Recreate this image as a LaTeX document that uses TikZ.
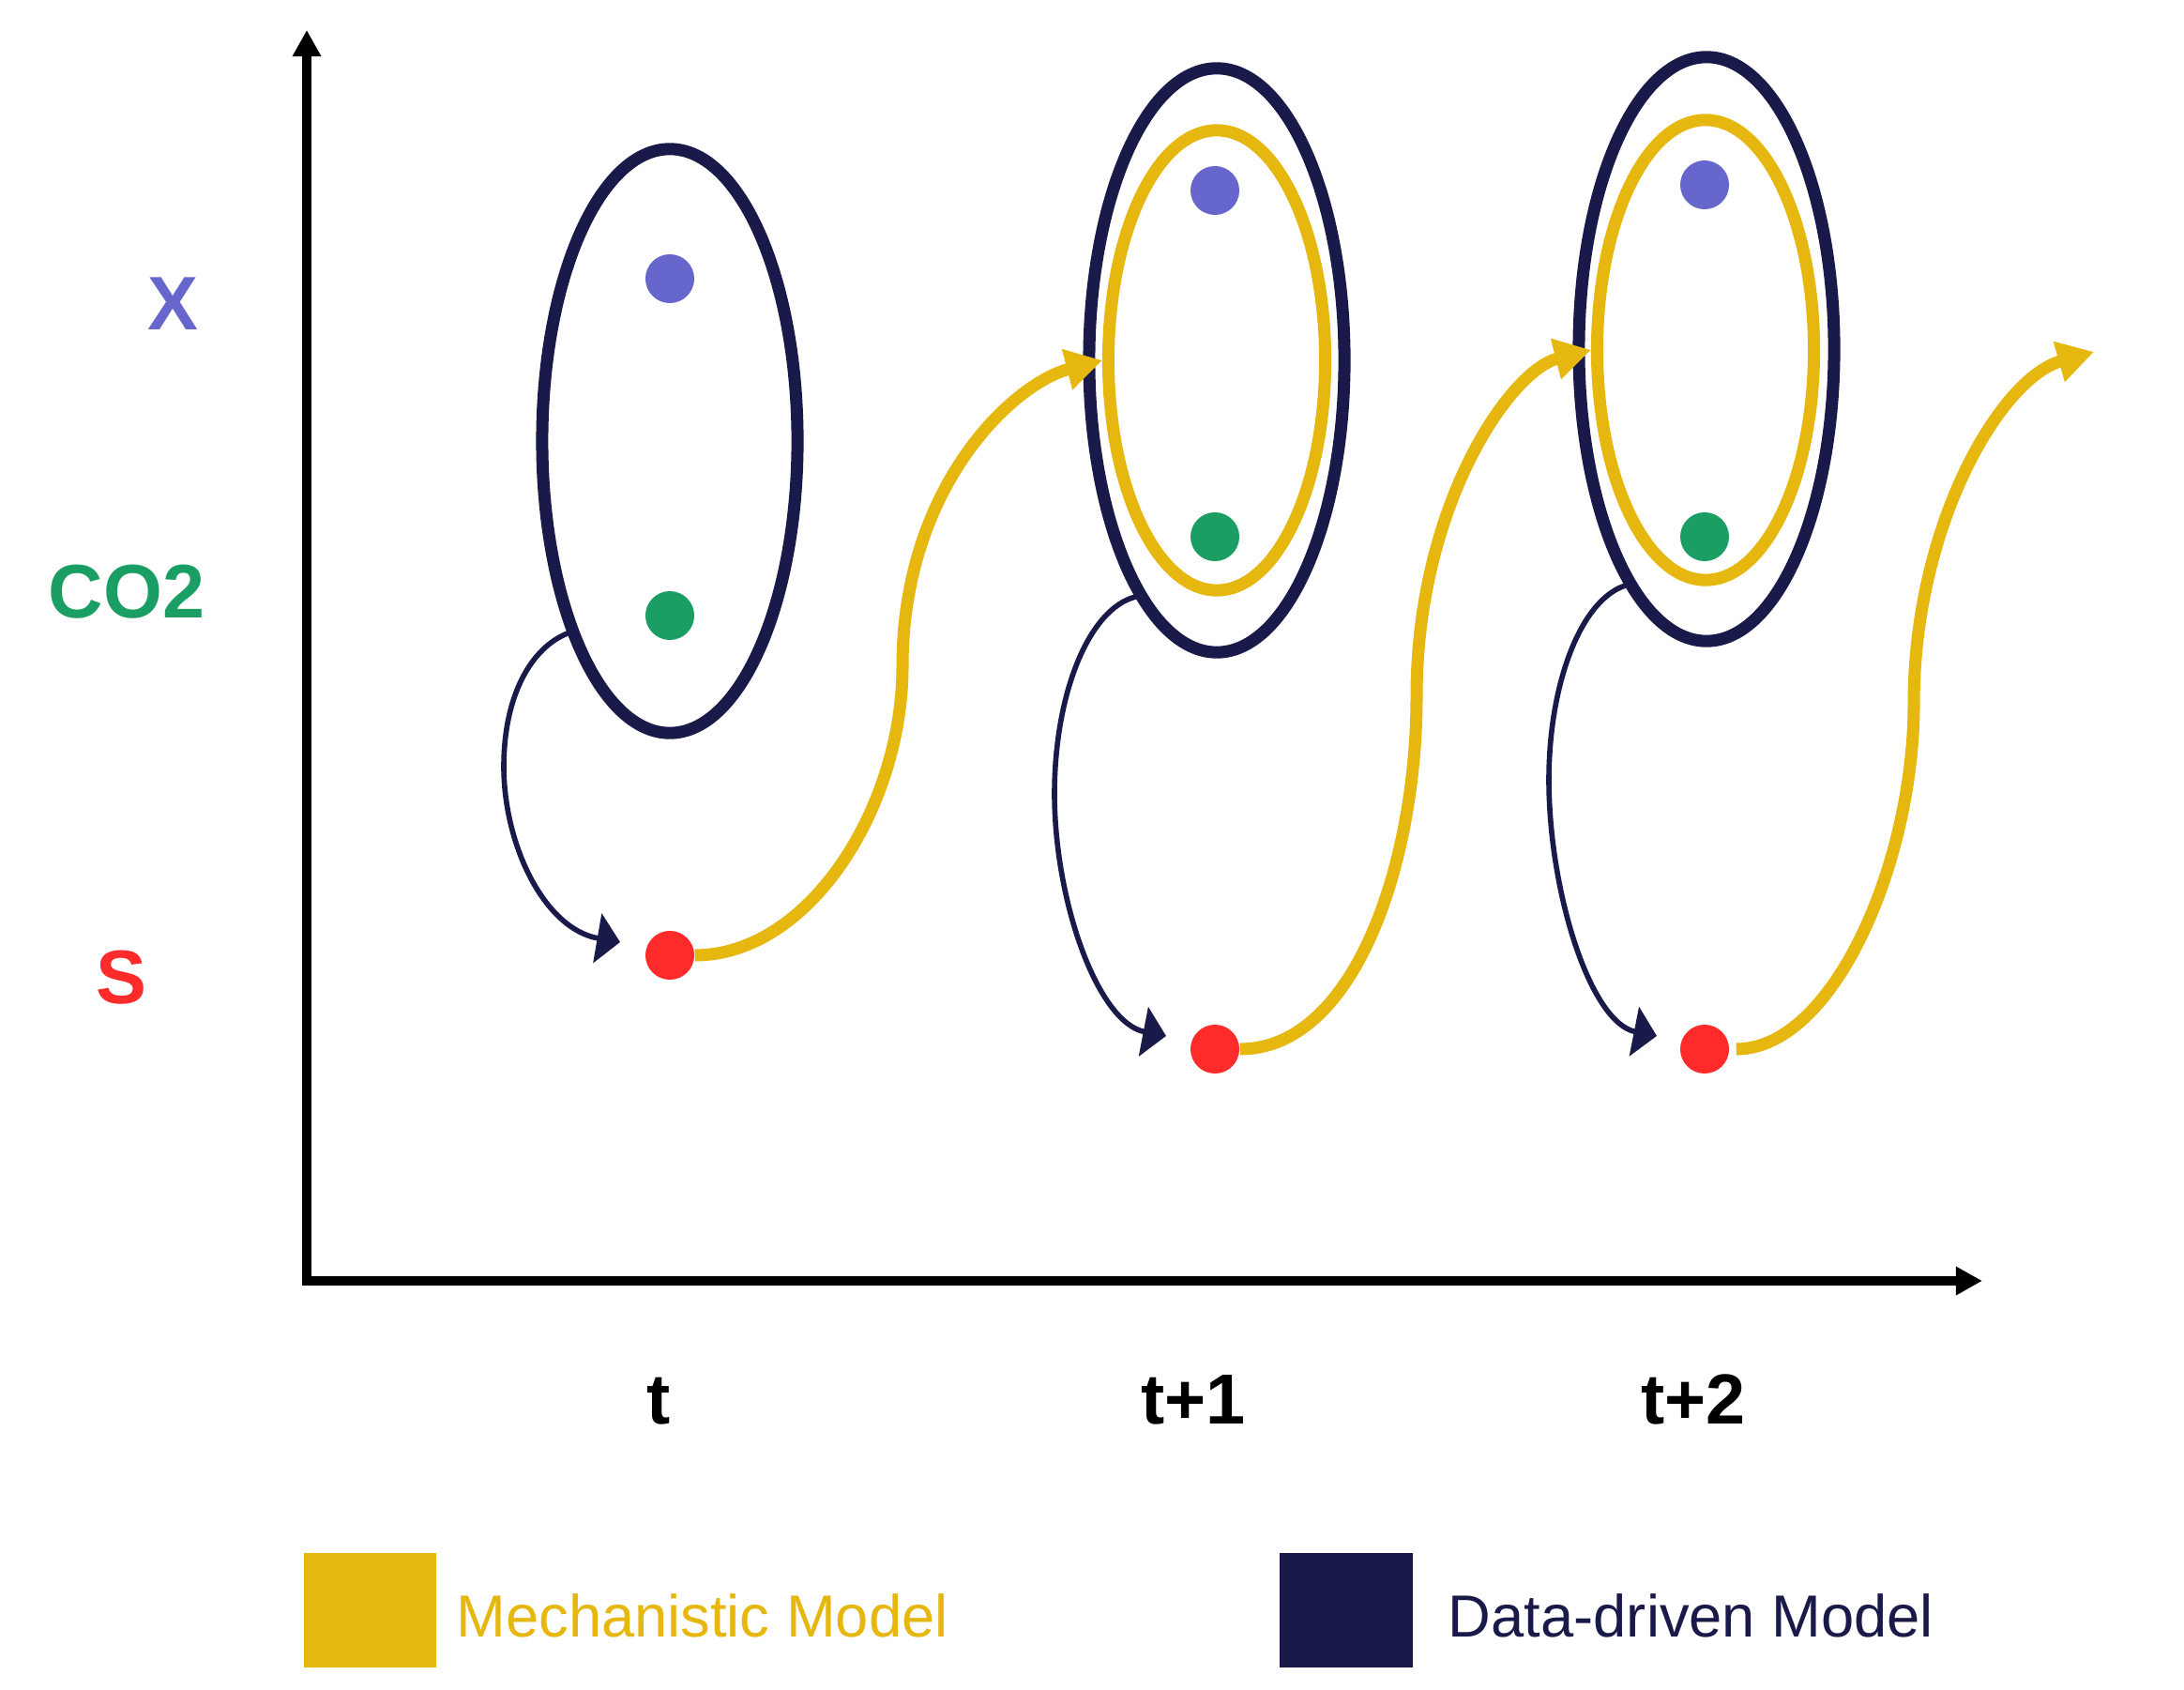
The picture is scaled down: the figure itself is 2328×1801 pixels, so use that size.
\documentclass[tikz,border=0pt]{standalone}
\usepackage{fontspec}
\setmainfont{Liberation Sans}
\usepackage{tikz}
\usetikzlibrary{arrows.meta}
\usetikzlibrary{shapes.geometric}
\usetikzlibrary{positioning}
\usetikzlibrary{calc}

\definecolor{mechcol}{HTML}{E6B70E}
\definecolor{datacol}{HTML}{1A1A4A}
\definecolor{xcol}{HTML}{6666CC}
\definecolor{cocol}{HTML}{1A9E63}
\definecolor{scol}{HTML}{FF2A2A}

\begin{document}
\begin{tikzpicture}[x=0.01cm,y=-0.01cm,
  axis/.style={line width=2.85pt,line cap=rect,-{Triangle[length=8pt,width=8.2pt]}},
  ddell/.style={ellipse,draw=datacol,line width=3.7pt,inner sep=0pt,minimum width=2.72cm,minimum height=6.22cm},
  mmell/.style={ellipse,draw=mechcol,line width=3.7pt,inner sep=0pt,minimum width=2.31cm,minimum height=4.9cm},
  statedot/.style={circle,fill=#1,inner sep=0pt,minimum size=0.52cm},
  ddarrow/.style={draw=datacol,line width=1.6pt,-{Triangle[length=7pt,width=15pt]}},
  mmarrow/.style={draw=mechcol,line width=3.7pt,-{Triangle[length=11pt,width=12pt]}},
  varlabel/.style={font=\bfseries\fontsize{23}{27}\selectfont,text=#1},
  timelabel/.style={font=\bfseries\fontsize{21.5}{26}\selectfont,anchor=base},
  legkey/.style={fill=#1,inner sep=0pt,minimum width=1.41cm,minimum height=1.22cm},
  legtext/.style={font=\fontsize{18}{22}\selectfont,text=#1,inner sep=0pt,anchor=west}]
\useasboundingbox (0,0) rectangle (2328,1801);

% axes
\coordinate (origin) at (327,1365);
\coordinate (ytip) at (327,32);
\coordinate (xtip) at (2113,1365);
\draw[axis] (origin) -- (ytip);
\draw[axis] (origin) -- (xtip);

% state labels
\node[varlabel=xcol] (xlab) at (184,324) {X};
\node[varlabel=cocol] (colab) at (135,631) {CO2};
\node[varlabel=scol] (slab) at (129,1042) {S};

% time labels
\node[timelabel] (t0) at (702,1517) {t};
\node[timelabel] (t1) at (1272,1517) {t+1};
\node[timelabel] (t2) at (1805,1517) {t+2};

% model ellipses
\node[ddell] (dm1) at (714,470) {};
\node[ddell] (dm2) at (1297,384) {};
\node[ddell] (dm3) at (1819,372) {};
\node[mmell] (mm2) at (1297,384) {};
\node[mmell] (mm3) at (1818,373) {};

% states
\node[statedot=xcol] (x1) at (714,297) {};
\node[statedot=cocol] (c1) at (714,656) {};
\node[statedot=scol] (s1) at (714,1018) {};
\node[statedot=xcol] (x2) at (1295,203) {};
\node[statedot=cocol] (c2) at (1295,572) {};
\node[statedot=scol] (s2) at (1295,1118) {};
\node[statedot=xcol] (x3) at (1817,197) {};
\node[statedot=cocol] (c3) at (1817,572) {};
\node[statedot=scol] (s3) at (1817,1118) {};

% data-driven arrows
\draw[ddarrow] (dm1.242) .. controls +(-38,15) and +(0,-77) .. (537,817)
  .. controls +(0,83) and +(-81,-14) .. ($(s1)+(-53,-14)$);
\draw[ddarrow] (dm2.251) .. controls +(-50,13) and +(0,-106) .. (1124,846)
  .. controls +(0,114) and +(-73,-14) .. ($(s2)+(-52,-14)$);
\draw[ddarrow] (dm3.251) .. controls +(-48,16) and +(0,-101) .. (1651,831)
  .. controls +(0,119) and +(-71,-14) .. ($(s3)+(-51,-14)$);

% mechanistic arrows
\coordinate (out3) at (2232,375);
\draw[mmarrow] (s1.east) .. controls +(122,0) and +(0,150) .. (962,710)
  .. controls +(0,-190) and +(-96,25) .. (mm2.west);
\draw[mmarrow] (s2.east) .. controls +(122,0) and +(0,178) .. (1510,742)
  .. controls +(0,-202) and +(-87,22) .. (mm3.west);
\draw[mmarrow,shorten <=2pt] (s3.east) .. controls +(110,0) and +(0,170) .. (2040,750)
  .. controls +(0,-190) and +(-100,28) .. (out3);

% legend
\node[legkey=mechcol] (mmkey) at (394.5,1716) {};
\node[legtext=mechcol,right=0.2cm of mmkey,yshift=-0.06cm] (mmtext) {Mechanistic Model};
\node[legkey=datacol] (ddkey) at (1435,1716) {};
\node[legtext=datacol,right=0.37cm of ddkey,yshift=-0.06cm] (ddtext) {Data-driven Model};

\end{tikzpicture}
\end{document}
